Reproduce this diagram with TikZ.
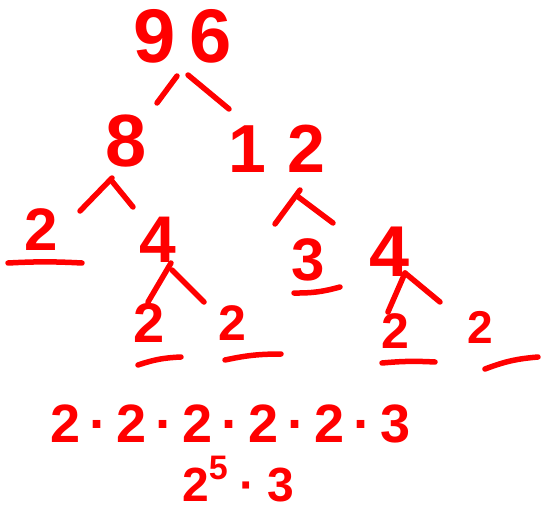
\documentclass[tikz,border=0pt]{standalone}
\usepackage{fontspec}
\setmainfont{Liberation Sans}
\definecolor{ink}{RGB}{255,0,0}
\begin{document}
\begin{tikzpicture}[x=1pt,y=-1pt,
  num/.style={text=ink,inner sep=0pt,anchor=base,font=\bfseries\fontsize{#1}{#1}\selectfont},
  num/.default=56,
  stroke/.style={draw=ink,line width=5.5pt,line cap=round}]
\useasboundingbox (0,0) rectangle (541,511);
% numbers (placed at their baselines)
\node[num=76] (n96) at (183,63) {9\hspace{14pt}6};
\node[num=74] (n8) at (126,166) {8};
\node[num=68] (n12) at (277,172) {1\hspace{22pt}2};
\node[num=60] (a2) at (41,250) {2};
\node[num=66] (a4) at (158,262) {4};
\node[num=60] (a3) at (308,280) {3};
\node[num=72] (b4) at (390,276) {4};
\node[num=56] (c2) at (149,342) {2};
\node[num=50] (d2) at (232,340) {2};
\node[num=50] (e2) at (395,348) {2};
\node[num=46] (f2) at (480,343) {2};
\node[num=54,anchor=base west] (prod) at (50,442) {2\hspace{9pt}·\hspace{9pt}2\hspace{9pt}·\hspace{9pt}2\hspace{9pt}·\hspace{9pt}2\hspace{9pt}·\hspace{9pt}2\hspace{9pt}·\hspace{9pt}3};
\node[num=48,anchor=base west] (pow) at (182,501) {2\raisebox{22pt}{\fontsize{34}{34}\selectfont 5}\hspace{12pt}·\hspace{12pt}3};
% branch end points
\coordinate (b96l1) at (157,103); \coordinate (b96l2) at (177,76);
\coordinate (b96r1) at (188,75);  \coordinate (b96r2) at (229,109);
\coordinate (b8l1) at (80,211);   \coordinate (b8l2) at (112,178);
\coordinate (b8r1) at (111,180);  \coordinate (b8r2) at (133,207);
\coordinate (b12l1) at (275,224); \coordinate (b12l2) at (300,190);
\coordinate (b12r1) at (297,196); \coordinate (b12r2) at (333,223);
\coordinate (b4l1) at (148,302);  \coordinate (b4l2) at (171,263);
\coordinate (b4r1) at (172,270);  \coordinate (b4r2) at (204,302);
\coordinate (bb4l1) at (388,312); \coordinate (bb4l2) at (405,273);
\coordinate (bb4r1) at (405,273); \coordinate (bb4r2) at (440,302);
\draw[stroke] (b96l1) -- (b96l2);
\draw[stroke] (b96r1) -- (b96r2);
\draw[stroke] (b8l1) -- (b8l2);
\draw[stroke] (b8r1) -- (b8r2);
\draw[stroke] (b12l1) -- (b12l2);
\draw[stroke] (b12r1) -- (b12r2);
\draw[stroke] (b4l1) -- (b4l2);
\draw[stroke] (b4r1) -- (b4r2);
\draw[stroke] (bb4l1) -- (bb4l2);
\draw[stroke] (bb4r1) -- (bb4r2);
% underlines
\coordinate (u1a) at (8,263);   \coordinate (u1b) at (82,263);
\coordinate (u2a) at (294,293); \coordinate (u2b) at (340,287);
\coordinate (u3a) at (138,365); \coordinate (u3b) at (181,357);
\coordinate (u4a) at (225,360); \coordinate (u4b) at (281,354);
\coordinate (u5a) at (382,363); \coordinate (u5b) at (435,362);
\coordinate (u6a) at (485,369); \coordinate (u6b) at (538,357);
\draw[stroke] (u1a) to[bend left=3] (u1b);
\draw[stroke] (u2a) to[bend right=8] (u2b);
\draw[stroke] (u3a) to[bend left=8] (u3b);
\draw[stroke] (u4a) to[bend left=6] (u4b);
\draw[stroke] (u5a) to[bend left=4] (u5b);
\draw[stroke] (u6a) to[bend left=8] (u6b);
\end{tikzpicture}
\end{document}
